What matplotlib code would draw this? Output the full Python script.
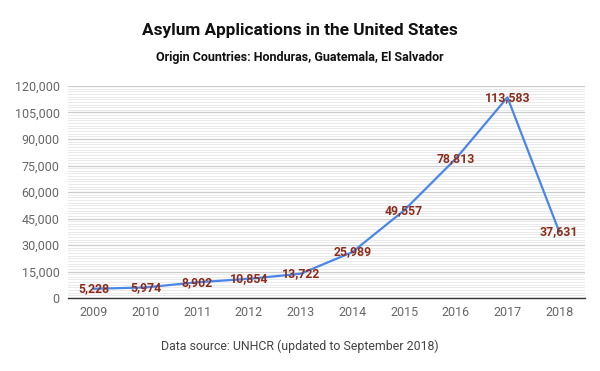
import matplotlib
matplotlib.use("Agg")
import matplotlib.pyplot as plt
from matplotlib.ticker import FuncFormatter, MultipleLocator

years = ["2009", "2010", "2011", "2012", "2013", "2014", "2015", "2016", "2017", "2018"]
applications = [5228, 5974, 8902, 10854, 13722, 25989, 49557, 78813, 113583, 37631]

plt.rcParams["font.family"] = ["Roboto", "DejaVu Sans"]

fig = plt.figure(figsize=(6.0, 3.71), dpi=100)
ax = fig.add_axes([68 / 600, 1 - 298 / 371, 517 / 600, 212 / 371])

x = list(range(len(years)))
ax.plot(x, applications, color="#4a86e8", linewidth=1.6, zorder=3)
for xi, v in zip(x, applications):
    ax.text(xi, v, f"{v:,}", ha="center", va="center", fontsize=8.8,
            fontweight="bold", color="#8b2c1c", zorder=4)

ax.set_xlim(-0.5, len(years) - 0.5)
ax.set_ylim(0, 120000)
ax.set_xticks(x)
ax.set_xticklabels(years)
ax.yaxis.set_major_locator(MultipleLocator(15000))
ax.yaxis.set_minor_locator(MultipleLocator(1500))
ax.yaxis.set_major_formatter(FuncFormatter(lambda v, p: f"{int(v):,}"))
ax.grid(axis="y", which="major", color="#cccccc", linewidth=0.9, zorder=0)
ax.grid(axis="y", which="minor", color="#e6e6e6", linewidth=0.6, zorder=0)
ax.tick_params(axis="both", which="both", length=0, labelsize=9, labelcolor="#666666")
ax.tick_params(axis="y", pad=6)
ax.tick_params(axis="x", pad=6)
for side in ["top", "right", "left"]:
    ax.spines[side].set_visible(False)
ax.spines["bottom"].set_color("#333333")
ax.spines["bottom"].set_linewidth(1.0)

fig.text(0.5, 1 - 30 / 371, "Asylum Applications in the United States",
         ha="center", va="center", fontsize=12.4, fontweight="bold", color="#111111")
fig.text(0.5, 1 - 57 / 371, "Origin Countries: Honduras, Guatemala, El Salvador",
         ha="center", va="center", fontsize=9, fontweight="bold", color="#111111")
fig.text(0.5, 1 - 346 / 371, "Data source: UNHCR (updated to September 2018)",
         ha="center", va="center", fontsize=8.9, color="#444444")

fig.savefig("out.png", dpi=100)
